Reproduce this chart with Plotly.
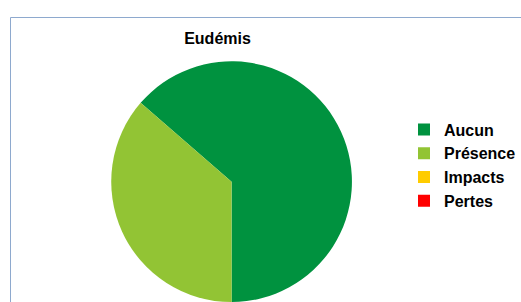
import plotly.graph_objects as go

title = "Eudémis"
labels = ["Aucun", "Présence", "Impacts", "Pertes"]
values = [7, 4, 0, 0]
colors = ["#00923F", "#92C434", "#FFCC00", "#FF0000"]

W, H = 521, 302
FONT = "Liberation Sans, Arial, sans-serif"

fig = go.Figure()
fig.add_trace(go.Pie(
    labels=labels,
    values=values,
    sort=False,
    direction="clockwise",
    rotation=-49.1,
    textinfo="none",
    hoverinfo="label+value+percent",
    marker=dict(colors=colors, line=dict(width=0)),
    domain=dict(x=[0.2, 0.689], y=[0.0, 0.797]),
    showlegend=True,
))

frame_color = "#8EA9CE"
fig.add_shape(type="line", xref="paper", yref="paper",
              x0=10.5 / W, y0=0, x1=10.5 / W, y1=1 - 17.5 / H,
              line=dict(color=frame_color, width=1))
fig.add_shape(type="line", xref="paper", yref="paper",
              x0=10.5 / W, y0=1 - 17.5 / H, x1=1, y1=1 - 17.5 / H,
              line=dict(color=frame_color, width=1))

fig.update_layout(
    width=W, height=H,
    margin=dict(l=0, r=0, t=0, b=0, autoexpand=False),
    paper_bgcolor="white",
    plot_bgcolor="white",
    title=dict(text=title, x=217.5 / W, xanchor="center",
               y=1 - 38.5 / H, yanchor="middle",
               font=dict(family=FONT, size=16, color="black", weight="bold")),
    legend=dict(x=404 / W, xanchor="left", y=1 - 165.5 / H, yanchor="middle",
                font=dict(family=FONT, size=16, color="black", weight="bold"),
                itemclick=False, tracegroupgap=0, bgcolor="rgba(0,0,0,0)"),
)

fig.write_html(
    "out.html",
    config={"displayModeBar": False},
    post_script="document.body.style.margin='0';document.body.style.overflow='hidden';"
                "document.documentElement.style.overflow='hidden';",
)
